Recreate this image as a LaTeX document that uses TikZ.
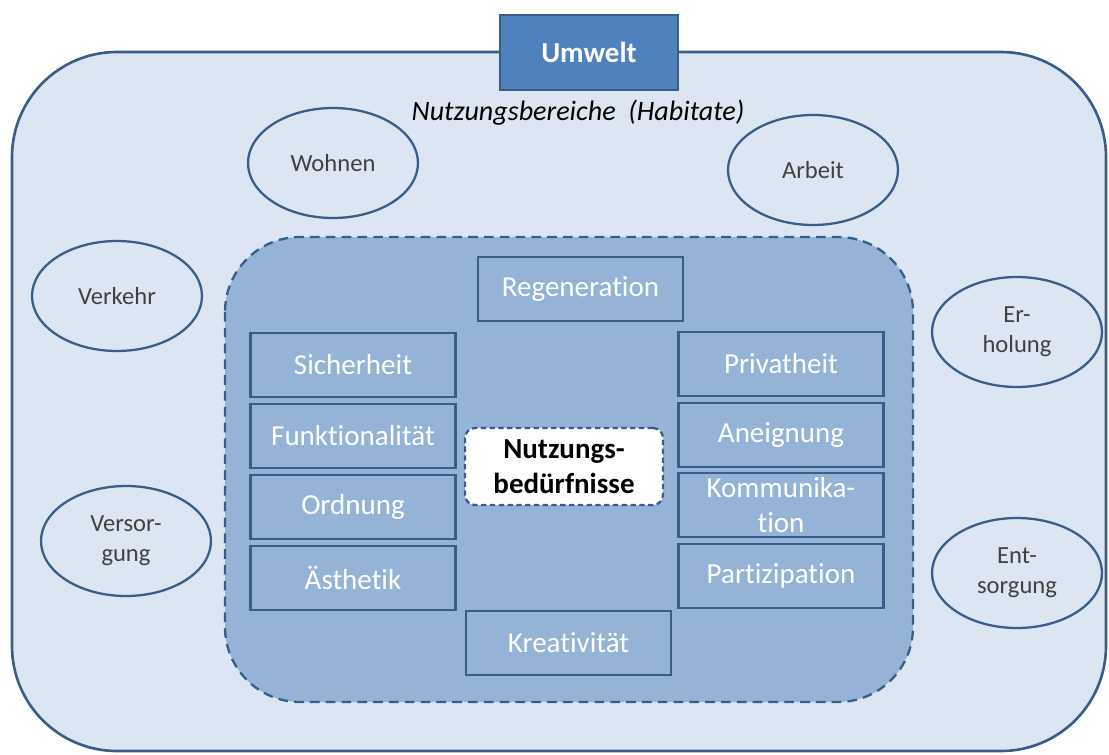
\documentclass[tikz,border=0pt]{standalone}
\usepackage{fontspec}
\setmainfont{Carlito}[Ligatures=NoCommon]
\usetikzlibrary{shapes.geometric}
\definecolor{outerfill}{HTML}{DCE6F2}
\definecolor{innerfill}{HTML}{95B3D7}
\definecolor{edge}{HTML}{385D8A}
\definecolor{umweltfill}{HTML}{4F81BD}
\definecolor{areatext}{HTML}{404040}
\begin{document}
\begin{tikzpicture}[x=0.02cm, y=-0.02cm,
  need/.style={draw=edge, fill=innerfill, line width=1.3pt, minimum width=4.1cm, minimum height=1.28cm,
    inner sep=1pt, text=white, align=center, font=\fontsize{16.5}{20}\selectfont},
  area/.style={ellipse, draw=edge, line width=1.3pt, minimum width=3.4cm, minimum height=2.2cm,
    inner sep=0pt, text=areatext, align=center, font=\fontsize{14}{17}\selectfont}]
\useasboundingbox (0,0) rectangle (1109,754);
% Umwelt
\draw[draw=edge, fill=outerfill, line width=1.5pt, rounded corners=2.1cm] (12,52) rectangle (1106,751);
\node[draw=edge, fill=umweltfill, line width=1.3pt, minimum width=3.56cm, minimum height=1.5cm,
  text=white, font=\bfseries\fontsize{16.5}{20}\selectfont] (umwelt) at (589,52.5) {Umwelt};
\node[font=\itshape\fontsize{16}{18}\selectfont] (bereiche) at (578,113) {Nutzungsbereiche\ \ (Habitate)};
\foreach \name/\txt/\x/\y in {wohnen/Wohnen/333/163, arbeit/Arbeit/813/170, verkehr/Verkehr/117/296,
  erholung/{Er-\\holung}/1017/332, versorgung/{Versor-\\gung}/126/541, entsorgung/{Ent-\\sorgung}/1017/573}
{
    \node[area] (\name) at (\x,\y) {\txt};
}
% Nutzungsbeduerfnisse
\draw[draw=edge, fill=innerfill, line width=1.3pt, dash pattern=on 5.5pt off 3.5pt, rounded corners=1.5cm] (225,237) rectangle (913,702);
\node[need] (regeneration) at (580.5,289) {Regeneration};
\node[need] (kreativitaet) at (568.5,643) {Kreativität};
\foreach \name/\txt/\y in {sicherheit/Sicherheit/365, funktion/Funktionalität/436, ordnung/Ordnung/507, aesthetik/Ästhetik/578}
{
    \node[need] (\name) at (353,\y) {\txt};
}
\foreach \name/\txt/\y in {privatheit/Privatheit/364, aneignung/Aneignung/435, kommunikation/{Kommunika-\\tion}/505, partizipation/Partizipation/576}
{
    \node[need] (\name) at (781,\y) {\txt};
}
\node[draw=edge, fill=white, line width=1.3pt, dash pattern=on 3pt off 2pt, rounded corners=0.2cm,
  minimum width=3.96cm, minimum height=1.54cm, inner sep=1pt, align=center,
  font=\bfseries\fontsize{16.5}{20}\selectfont] (kern) at (564,466.5) {Nutzungs-\\bedürfnisse};
\end{tikzpicture}
\end{document}
